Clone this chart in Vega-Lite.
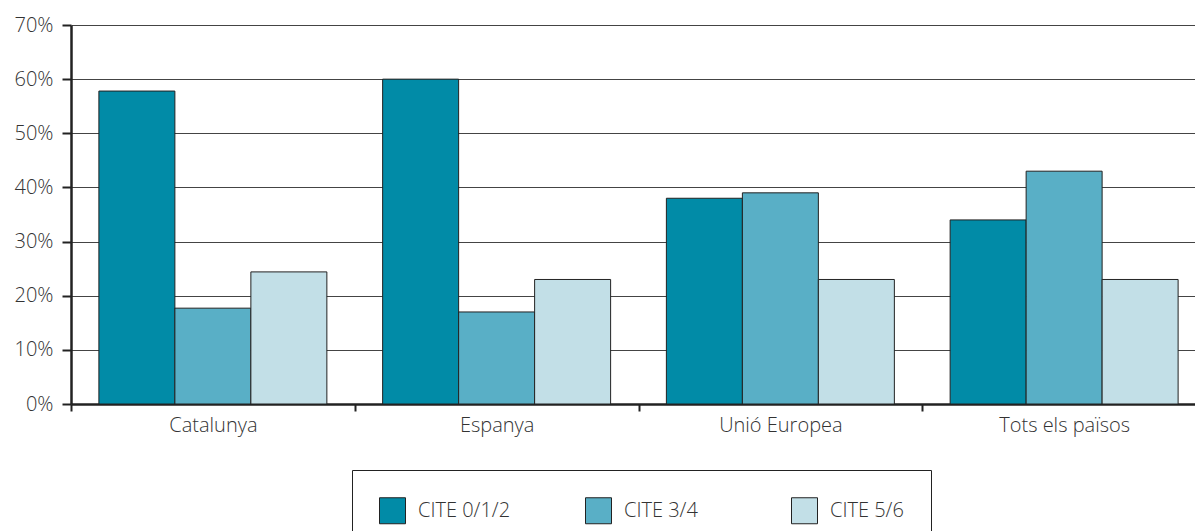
{
  "$schema": "https://vega.github.io/schema/vega-lite/v6.json",
  "width": 1124,
  "height": 379,
  "autosize": "none",
  "padding": {"left": 71, "top": 25, "right": 0, "bottom": 127},
  "background": "white",
  "config": {
    "view": {"stroke": null},
    "font": "Open Sans",
    "axis": {
      "labelFont": "Open Sans",
      "labelFontSize": 20,
      "labelFontWeight": 300,
      "labelColor": "#333",
      "domainColor": "#222",
      "tickColor": "#222"
    }
  },
  "data": {
    "values": [
      {"region": "Catalunya", "level": "CITE 0/1/2", "value": 0.578},
      {"region": "Catalunya", "level": "CITE 3/4", "value": 0.177},
      {"region": "Catalunya", "level": "CITE 5/6", "value": 0.244},
      {"region": "Espanya", "level": "CITE 0/1/2", "value": 0.60},
      {"region": "Espanya", "level": "CITE 3/4", "value": 0.17},
      {"region": "Espanya", "level": "CITE 5/6", "value": 0.23},
      {"region": "Unió Europea", "level": "CITE 0/1/2", "value": 0.38},
      {"region": "Unió Europea", "level": "CITE 3/4", "value": 0.39},
      {"region": "Unió Europea", "level": "CITE 5/6", "value": 0.23},
      {"region": "Tots els països", "level": "CITE 0/1/2", "value": 0.34},
      {"region": "Tots els països", "level": "CITE 3/4", "value": 0.43},
      {"region": "Tots els països", "level": "CITE 5/6", "value": 0.23}
    ]
  },
  "mark": {"type": "bar", "stroke": "#222", "strokeWidth": 1},
  "encoding": {
    "x": {
      "field": "region",
      "type": "nominal",
      "sort": null,
      "scale": {"paddingInner": 0, "paddingOuter": 0, "range": [0, 1135]},
      "axis": {
        "title": null,
        "labelAngle": 0,
        "tickBand": "extent",
        "tickSize": 7,
        "tickWidth": 2,
        "domainWidth": 2.5,
        "labelPadding": 4
      }
    },
    "xOffset": {
      "field": "level",
      "type": "nominal",
      "sort": null,
      "scale": {"paddingInner": 0, "paddingOuter": 0.367}
    },
    "y": {
      "field": "value",
      "type": "quantitative",
      "scale": {"domain": [0, 0.7]},
      "axis": {
        "title": null,
        "format": ".0%",
        "values": [0, 0.1, 0.2, 0.3, 0.4, 0.5, 0.6, 0.7],
        "grid": true,
        "gridColor": "#444",
        "gridWidth": 1,
        "tickSize": 9,
        "tickWidth": 2,
        "domainWidth": 2.5,
        "labelPadding": 9
      }
    },
    "color": {
      "field": "level",
      "type": "nominal",
      "sort": null,
      "scale": {"range": ["#018ba7", "#59afc6", "#c2dfe7"]},
      "legend": {
        "title": null,
        "orient": "none",
        "legendX": 281,
        "legendY": 445,
        "direction": "horizontal",
        "columns": 3,
        "gridAlign": "all",
        "strokeColor": "#222",
        "padding": 27,
        "symbolType": "square",
        "symbolSize": 676,
        "symbolStrokeColor": "#222",
        "symbolStrokeWidth": 1,
        "labelFont": "Open Sans",
        "labelFontWeight": 300,
        "labelFontSize": 20,
        "labelColor": "#333",
        "labelOffset": 12,
        "columnPadding": 72
      }
    }
  }
}
